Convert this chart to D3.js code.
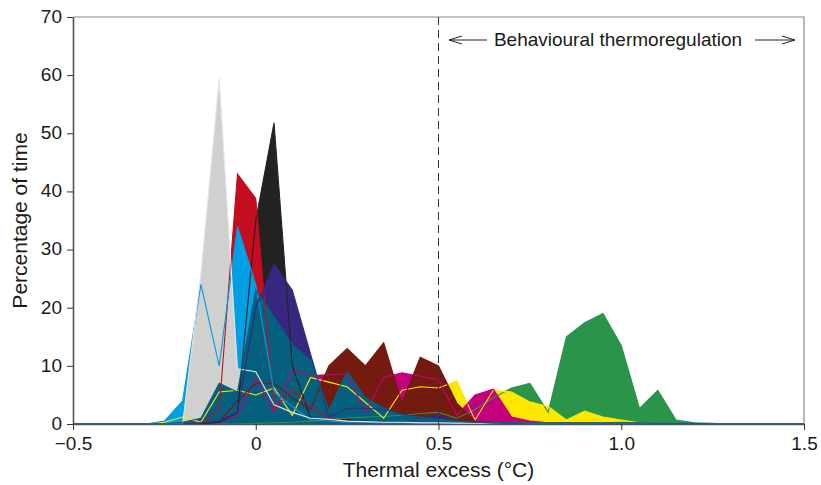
<!DOCTYPE html>
<html>
<head>
<meta charset="utf-8">
<script src="https://cdn.jsdelivr.net/npm/d3@7"></script>
<style>
  body { margin: 0; background: #fff; }
  text { font-family: "Liberation Sans", Arial, sans-serif; fill: #1a1a1a; }
</style>
</head>
<body>
<div id="chart"></div>
<script>
// bins of thermal excess (°C)
const bins = [-0.5, -0.45, -0.4, -0.35, -0.3, -0.25, -0.2, -0.15, -0.1, -0.05,
              0, 0.05, 0.1, 0.15, 0.2, 0.25, 0.3, 0.35, 0.4, 0.45,
              0.5, 0.55, 0.6, 0.65, 0.7, 0.75, 0.8, 0.85, 0.9, 0.95,
              1.0, 1.05, 1.1, 1.15, 1.2, 1.25, 1.3, 1.35, 1.4, 1.45, 1.5];

// percentage of time per bin, one array per animal
const green   = [0,0,0,0,0, 0,0,0,0,0, 0.1,0.2,0.3,0.5,0.8, 1,1.2,1.3,1.5,1.8, 2,1,2.5,4.5,6.2, 7,2,15,17.4,19, 13.5,2.7,5.8,0.7,0.2, 0.1,0,0,0,0,0];
const yellow  = [0,0,0,0,0, 0.3,1.2,0.3,5.5,5.8, 5,6.2,1.5,8,7.2, 6.4,3.7,1,5.8,6.4, 6.2,7.4,0.7,5.8,5.5, 3.8,3,0.7,2.2,1.2, 0.7,0.2,0,0,0, 0,0,0,0,0,0];
const magenta = [0,0,0,0,0, 0,0,0.2,0.3,1.5, 8,2,9.3,8.3,8.5, 8.6,2,8,8.8,8.2, 7.6,1.5,5,6,1.2, 0.5,0.2,0,0,0, 0,0,0,0,0, 0,0,0,0,0,0];
const brown   = [0,0,0,0,0, 0,0,0,0.3,4, 7,7,4.5,2.5,10, 13,10,14,3.6,11.5, 10,3.6,0.5,0.2,0, 0,0,0,0,0, 0,0,0,0,0, 0,0,0,0,0,0];
const black   = [0,0,0,0,0, 0,0,0,0.3,2, 35,51.8,10,1,0.5, 0.8,0.5,0.3,0.3,0.2, 0.2,0.1,0,0,0, 0,0,0,0,0, 0,0,0,0,0, 0,0,0,0,0,0];
const red     = [0,0,0,0,0, 0,0,0.2,2.4,43, 38.8,2.5,6,3,1, 0.5,0.3,0.2,0.2,0.1, 0.1,0,0,0,0, 0,0,0,0,0, 0,0,0,0,0, 0,0,0,0,0,0];
const cyan    = [0,0,0,0,0, 0.5,4,24,10,34, 24,5.5,3,0.7,0.5, 0.3,0.3,0.2,0.2,0.2, 0.2,0.2,0.3,0.2,0.2, 0.2,0.2,0.2,0.2,0.2, 0.3,0.2,0.1,0.1,0, 0,0,0,0,0,0];
const grey    = [0,0,0,0,0, 0,0,26,59.5,9.5, 9,3.3,2,1,0.8, 0.5,0.4,0.3,0.3,0.2, 0.2,0.1,0.1,0,0, 0,0,0,0,0, 0,0,0,0,0, 0,0,0,0,0,0];
const navy    = [0,0,0,0,0, 0,0,0.2,0.5,2, 20,27.5,23,12,1.2, 2.7,2.7,2.5,1.8,1, 1.5,0.5,0.3,0.2,0.1, 0,0,0,0,0, 0,0,0,0,0, 0,0,0,0,0,0];
const teal    = [0,0,0,0,0, 0,0.3,1,7,5.5, 23,18.5,13.6,11,2.4, 9,4.5,2.8,1.5,1.2, 0.8,0.5,0.3,0.3,0.2, 0.2,0.2,0.2,0.2,0.2, 0.2,0.2,0.1,0.1,0.1, 0,0,0,0,0,0];

// drawn back to front
const seriesNames  = ["green", "yellow", "magenta", "brown", "black", "red", "cyan", "grey", "navy", "teal"];
const seriesValues = [green, yellow, magenta, brown, black, red, cyan, grey, navy, teal];
const seriesColors = ["#2a944a", "#ffe800", "#c5007c", "#741a0e", "#222222", "#c40d1e", "#009ee2", "#d0d0cf", "#36287e", "#05607f"];

const xTicks = [-0.5, 0, 0.5, 1.0, 1.5];
const xTickLabels = ["\u22120.5", "0", "0.5", "1.0", "1.5"];
const yTicks = [0, 10, 20, 30, 40, 50, 60, 70];
const thresholdX = 0.5;

const width = 821, height = 485;
const margin = { top: 17, right: 17, bottom: 61, left: 73 };

const svg = d3.select("#chart").append("svg")
    .attr("width", width)
    .attr("height", height);

const x = d3.scaleLinear()
    .domain([-0.5, 1.5])
    .range([margin.left, width - margin.right]);

const y = d3.scaleLinear()
    .domain([0, 70])
    .range([height - margin.bottom, margin.top]);

const series = seriesNames.map((name, i) => ({
    name: name,
    color: seriesColors[i],
    points: bins.map((b, j) => [b, seriesValues[i][j]])
}));

const area = d3.area()
    .x(d => x(d[0]))
    .y0(y(0))
    .y1(d => y(d[1]));

const line = d3.line()
    .x(d => x(d[0]))
    .y(d => y(d[1]));

// frame: top and right border
svg.append("path")
    .attr("d", `M${x(-0.5)},${y(70)}H${x(1.5)}V${y(0)}`)
    .attr("fill", "none")
    .attr("stroke", "#8a8a8a")
    .attr("stroke-width", 1.2);

svg.append("g")
    .selectAll("path")
    .data(series)
    .join("path")
    .attr("d", d => area(d.points))
    .attr("fill", d => d.color);

svg.append("g")
    .selectAll("path")
    .data(series)
    .join("path")
    .attr("d", d => line(d.points))
    .attr("fill", "none")
    .attr("stroke", d => d.name == "grey" ? "#e4e6e8" : d.color)
    .attr("stroke-width", 1.1)
    .attr("stroke-linejoin", "miter");

// dashed threshold
svg.append("line")
    .attr("x1", x(thresholdX)).attr("x2", x(thresholdX))
    .attr("y1", y(70)).attr("y2", y(0))
    .attr("stroke", "#333")
    .attr("stroke-width", 1)
    .attr("stroke-dasharray", "8,5");

// axes
const xAxis = svg.append("g")
    .attr("transform", `translate(0,${y(0)})`)
    .call(d3.axisBottom(x)
        .tickValues(xTicks)
        .tickFormat((d, i) => xTickLabels[i])
        .tickSizeInner(6)
        .tickSizeOuter(0)
        .tickPadding(7));

const yAxis = svg.append("g")
    .attr("transform", `translate(${x(-0.5)},0)`)
    .call(d3.axisLeft(y)
        .tickValues(yTicks)
        .tickSizeInner(6)
        .tickSizeOuter(0)
        .tickPadding(5));

[xAxis, yAxis].forEach(g => {
    g.select(".domain").attr("stroke", "#4a5560").attr("stroke-width", 1.6);
    g.selectAll(".tick line").attr("stroke", "#333");
    g.selectAll(".tick text")
        .attr("fill", "#1a1a1a")
        .style("font-size", "19px")
        .style("font-family", "'Liberation Sans', Arial, sans-serif");
});
// the "0" label sits just above the x labels
yAxis.selectAll(".tick text").attr("dy", "0.28em");

// axis titles
svg.append("text")
    .attr("x", x(0.5))
    .attr("y", 477)
    .attr("text-anchor", "middle")
    .style("font-size", "21px")
    .text("Thermal excess (\u00B0C)");

svg.append("text")
    .attr("transform", `translate(27,${(y(0) + y(70)) / 2}) rotate(-90)`)
    .attr("text-anchor", "middle")
    .style("font-size", "21px")
    .text("Percentage of time");

// annotation
const annY = 40;
svg.append("text")
    .attr("x", 618)
    .attr("y", annY + 6)
    .attr("text-anchor", "middle")
    .style("font-size", "19px")
    .text("Behavioural thermoregulation");

const arrows = [
    { from: 487, to: 449 },
    { from: 755, to: 795 }
];
arrows.forEach(a => {
    const dir = a.to > a.from ? 1 : -1;
    svg.append("path")
        .attr("d", `M${a.from},${annY}H${a.to}M${a.to - dir * 13},${annY - 4}L${a.to},${annY}L${a.to - dir * 13},${annY + 4}`)
        .attr("fill", "none")
        .attr("stroke", "#222")
        .attr("stroke-width", 1);
});
</script>
</body>
</html>
